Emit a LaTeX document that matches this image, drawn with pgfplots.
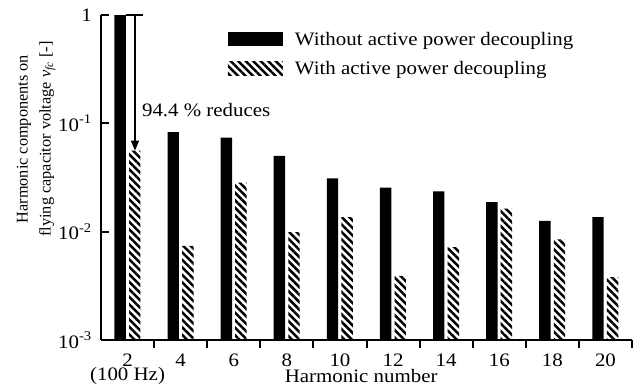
\documentclass[border=0pt]{standalone}
\usepackage{fontspec}
\setmainfont{Liberation Serif}[FakeStretch=1.1]
\newfontfamily\ylabfont{Liberation Serif}
\usepackage{pgfplots}
\usepackage{pgfplotstable}
\pgfplotsset{compat=1.18}
\usetikzlibrary{patterns.meta, arrows.meta}
\pgfplotsset{mylegimg/.style={legend image code/.code={\path[##1] (0bp,-1bp) rectangle (55bp,13bp);\path (67bp,0bp);}}}

\pgfplotstableread{
x y
2 1
4 0.083
6 0.074
8 0.050
10 0.031
12 0.0255
14 0.0235
16 0.0187
18 0.0126
20 0.0136
}\tblA

\pgfplotstableread{
x y
2 0.056
4 0.0074
6 0.0284
8 0.0099
10 0.0136
12 0.0039
14 0.0072
16 0.0163
18 0.0085
20 0.0038
}\tblB

\begin{document}
\begin{tikzpicture}
\path[use as bounding box] (-101bp,-45bp) rectangle (539bp,340bp);
\begin{axis}[
  at={(0,0)}, anchor=south west,
  scale only axis, width=531bp, height=325bp,
  ymode=log, log origin=infty,
  xmin=1, xmax=21, ymin=1e-3, ymax=1,
  axis x line=bottom, axis y line=left,
  axis line style={-, line width=2bp},
  tick align=inside, major tick length=8bp,
  tick style={line width=2bp, black},
  xtick={3,5,...,21},
  xticklabels={,,,,,,,,,,},
  extra x ticks={2,4,...,20},
  extra x tick labels={{\begin{tabular}[t]{@{}c@{}}2\\[-3bp](100 Hz)\end{tabular}},4,6,8,10,12,14,16,18,20},
  extra x tick style={major tick length=0pt},
  xticklabel style={anchor=base, yshift=-26bp, inner sep=0pt, font=\fontsize{19bp}{16bp}\selectfont},
  ytick={0.001,0.01,0.1,1},
  yticklabels={10\textsuperscript{-3},10\textsuperscript{-2},10\textsuperscript{-1},1},
  yminorticks=false,
  yticklabel style={font=\fontsize{19bp}{21bp}\selectfont, inner sep=0pt, xshift=-9bp},
  ylabel={Harmonic components on\\flying capacitor voltage \textit{v}\textsubscript{\textit{fc}} [-]},
  ylabel style={at={(axis description cs:-0.122,0.618)}, anchor=center, align=center, inner sep=0pt,
    font=\ylabfont\fontsize{16.3bp}{23bp}\selectfont},
  xlabel={Harmonic number},
  xlabel style={at={(axis description cs:0.49,0)}, anchor=base, yshift=-42bp, inner sep=0pt,
    font=\fontsize{19bp}{21bp}\selectfont},
  ybar, bar width=0.43,
  legend style={at={(axis description cs:0.239,0.948)}, anchor=north west, draw=none, fill=none,
    inner sep=0pt, outer sep=0pt, row sep=14.5bp, font=\fontsize{19bp}{21bp}\selectfont,
    nodes={inner sep=0pt, anchor=base west}},
  legend cell align=left,
  clip=false,
]
\addplot[fill=black, draw=none, bar shift=-0.28, mylegimg] table {\tblA};
\addplot[pattern={Lines[angle=-45,distance=5.3bp,line width=2.5bp]}, pattern color=black, draw=none, bar shift=0.27, mylegimg] table {\tblB};
\legend{Without active power decoupling, With active power decoupling}
\draw[line width=1.3bp] (axis cs:1.94,1) -- (axis cs:2.6,1);
\draw[line width=1.3bp, -{Triangle[length=10bp,width=8bp]}] (axis cs:2.28,1) -- (axis cs:2.28,0.056);
\node[anchor=base west, inner sep=0pt, font=\fontsize{19bp}{21bp}\selectfont] at (axis cs:2.54,0.116) {94.4 \% reduces};
\end{axis}
\end{tikzpicture}
\end{document}
